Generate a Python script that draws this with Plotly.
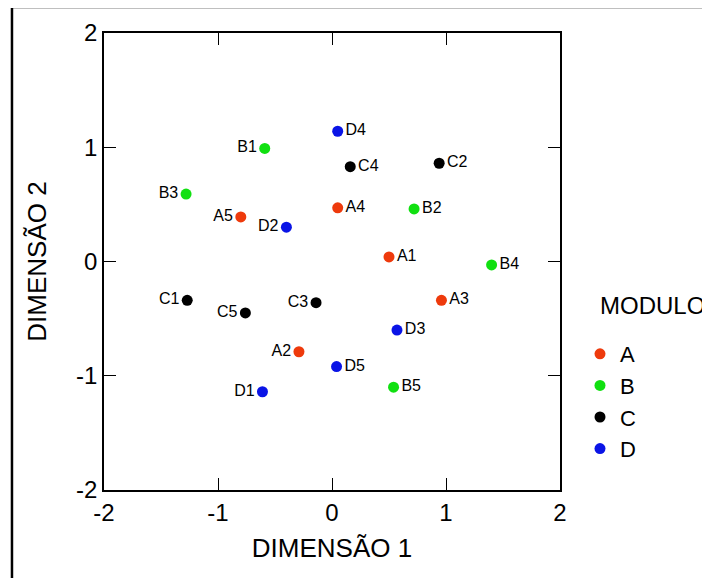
import plotly.graph_objects as go

groups = ["A", "B", "C", "D"]
colors = {"A": "#EE3A0C", "B": "#11E011", "C": "#000000", "D": "#0A14E6"}

labels_A = ["A1", "A2", "A3", "A4", "A5"]
x_A = [0.50, -0.29, 0.96, 0.05, -0.80]
y_A = [0.04, -0.79, -0.34, 0.47, 0.39]

labels_B = ["B1", "B2", "B3", "B4", "B5"]
x_B = [-0.59, 0.72, -1.28, 1.40, 0.54]
y_B = [0.99, 0.46, 0.59, -0.03, -1.10]

labels_C = ["C1", "C2", "C3", "C4", "C5"]
x_C = [-1.27, 0.94, -0.14, 0.16, -0.76]
y_C = [-0.34, 0.86, -0.36, 0.83, -0.45]

labels_D = ["D1", "D2", "D3", "D4", "D5"]
x_D = [-0.61, -0.40, 0.57, 0.05, 0.04]
y_D = [-1.14, 0.30, -0.60, 1.14, -0.92]

# which labels sit to the left of their point
left_labels = {"B1", "B3", "A5", "D2", "C1", "C3", "C5", "A2", "D1"}

data = {
    "A": (labels_A, x_A, y_A),
    "B": (labels_B, x_B, y_B),
    "C": (labels_C, x_C, y_C),
    "D": (labels_D, x_D, y_D),
}

FONT = "Liberation Sans, Arial, sans-serif"

fig = go.Figure()
for g in groups:
    labs, xs, ys = data[g]
    fig.add_trace(go.Scatter(
        x=xs, y=ys, mode="markers+text", name=g,
        text=labs,
        textposition=["middle left" if l in left_labels else "middle right" for l in labs],
        textfont=dict(family=FONT, size=16, color="black"),
        marker=dict(color=colors[g], size=11),
    ))

fig.update_xaxes(
    range=[-2, 2], tickvals=[-2, -1, 0, 1, 2], ticktext=["-2", "-1", "0", "1", "2"],
    showgrid=False, zeroline=False, showline=True, linecolor="black", linewidth=1.5,
    mirror="ticks", ticks="inside", ticklen=12, tickcolor="black", tickwidth=1.2,
    tickfont=dict(family=FONT, size=24, color="black"),
    title=dict(text="DIMENSÃO 1", font=dict(family=FONT, size=26, color="black"), standoff=14),
    automargin=False,
)
fig.update_yaxes(
    range=[-2, 2], tickvals=[-2, -1, 0, 1, 2], ticktext=["-2", "-1", "0", "1", "2"],
    showgrid=False, zeroline=False, showline=True, linecolor="black", linewidth=1.5,
    mirror="ticks", ticks="inside", ticklen=12, tickcolor="black", tickwidth=1.2,
    tickfont=dict(family=FONT, size=24, color="black"),
    title=dict(text="DIMENSÃO 2", font=dict(family=FONT, size=26, color="black"), standoff=22),
    automargin=False,
)

# outer frame
fig.add_shape(type="rect", xref="paper", yref="paper",
              x0=-0.2018, x1=1.6, y0=-0.6, y1=1.0569,
              line=dict(color="black", width=2.5), fillcolor="rgba(0,0,0,0)")

# legend title
fig.add_annotation(text="MODULO", xref="paper", yref="paper",
                   x=(598 - 104) / 456, y=(490 - 305) / 457,
                   xanchor="left", yanchor="middle", showarrow=False,
                   font=dict(family=FONT, size=24, color="black"))

fig.update_layout(
    width=710, height=578,
    margin=dict(l=96, r=158, t=25, b=96),
    paper_bgcolor="white", plot_bgcolor="white",
    showlegend=True,
    legend=dict(
        x=(580 - 104) / 456, y=(490 - 333) / 457, xanchor="left", yanchor="top",
        font=dict(family=FONT, size=22, color="black"),
        bgcolor="rgba(0,0,0,0)",
    ),
)

fig.write_html("out.html")
